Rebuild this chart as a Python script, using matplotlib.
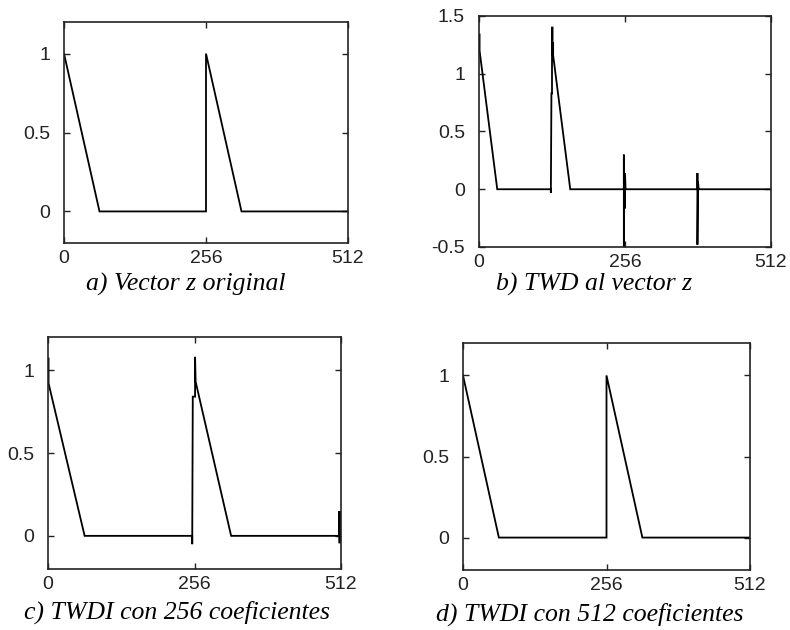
import matplotlib
matplotlib.use("Agg")
import matplotlib.pyplot as plt

W, H = 790, 630
tickFont = 14
captionFont = 18.5

# panel a) original vector
a_x = [0, 64, 256, 256, 320, 512]
a_y = [1, 0, 0, 1, 0, 0]

# panel b) wavelet transform
b_x = [0, 0, 1, 1, 32, 126, 126, 127, 128, 128, 129, 129, 130, 130, 160,
       254, 254, 254, 255, 255, 256, 256, 257, 383, 383, 383, 384, 385, 385, 512]
b_y = [1.20, 1.34, 1.34, 1.20, 0, 0, -0.03, 0.83, 0.83, 1.40, 1.40, 1.16, 1.27, 1.16, 0,
       0, 0.30, -0.50, 0.14, -0.16, -0.16, 0.14, 0, 0, 0.14, -0.48, 0.065, 0.01, 0, 0]

# panel c) inverse with 256 coefficients
c_x = [0, 0, 1, 1, 64, 252, 252, 253, 257, 257, 258, 320,
       509, 509, 509, 510, 510, 511, 512]
c_y = [0.92, 1.07, 1.07, 0.92, 0, 0, -0.05, 0.84, 0.84, 1.08, 0.93, 0,
       0, 0.15, -0.04, -0.04, 0.15, 0, 0]

# panel d) inverse with 512 coefficients
d_x = [0, 64, 256, 256, 320, 512]
d_y = [1, 0, 0, 1, 0, 0]

xTicks = [0, 256, 512]
xTickLabels = ["0", "256", "512"]

panels = [
    # x, y, (left, top, right, bottom) in px, ylim, yticks, yticklabels, caption, caption pos
    (a_x, a_y, (64, 22, 348, 243), (-0.2, 1.2), [0, 0.5, 1], ["0", "0.5", "1"],
     "a) Vector z original", (186, 284)),
    (b_x, b_y, (479, 16, 771, 247), (-0.5, 1.5), [-0.5, 0, 0.5, 1, 1.5],
     ["-0.5", "0", "0.5", "1", "1.5"], "b) TWD al vector z", (594, 284)),
    (c_x, c_y, (48, 337, 341, 569), (-0.2, 1.2), [0, 0.5, 1], ["0", "0.5", "1"],
     "c) TWDI con 256 coeficientes", (177, 612)),
    (d_x, d_y, (463, 343, 750, 570), (-0.2, 1.2), [0, 0.5, 1], ["0", "0.5", "1"],
     "d) TWDI con 512 coeficientes", (590, 614)),
]

fig = plt.figure(figsize=(W / 100, H / 100), dpi=100)

for xs, ys, box, ylim, yt, ytl, caption, cpos in panels:
    l, t, r, b = box
    ax = fig.add_axes([l / W, 1 - b / H, (r - l) / W, (b - t) / H])
    ax.plot(xs, ys, color="black", linewidth=1.3, solid_joinstyle="miter")
    ax.set_xlim(0, 512)
    ax.set_ylim(*ylim)
    ax.set_xticks(xTicks)
    ax.set_xticklabels(xTickLabels)
    ax.set_yticks(yt)
    ax.set_yticklabels(ytl)
    ax.tick_params(direction="in", top=True, right=True, length=4, width=1,
                   labelsize=tickFont, colors="#222222", pad=5)
    ax.tick_params(axis="y", pad=10)
    for lab in ax.get_xticklabels() + ax.get_yticklabels():
        lab.set_family("Liberation Sans")
    for s in ax.spines.values():
        s.set_linewidth(1.2)
        s.set_color("#222222")
    fig.text(cpos[0] / W, 1 - cpos[1] / H, caption, ha="center", va="center",
             fontsize=captionFont, family="Liberation Serif", style="italic")

fig.savefig("out.png", dpi=100)
